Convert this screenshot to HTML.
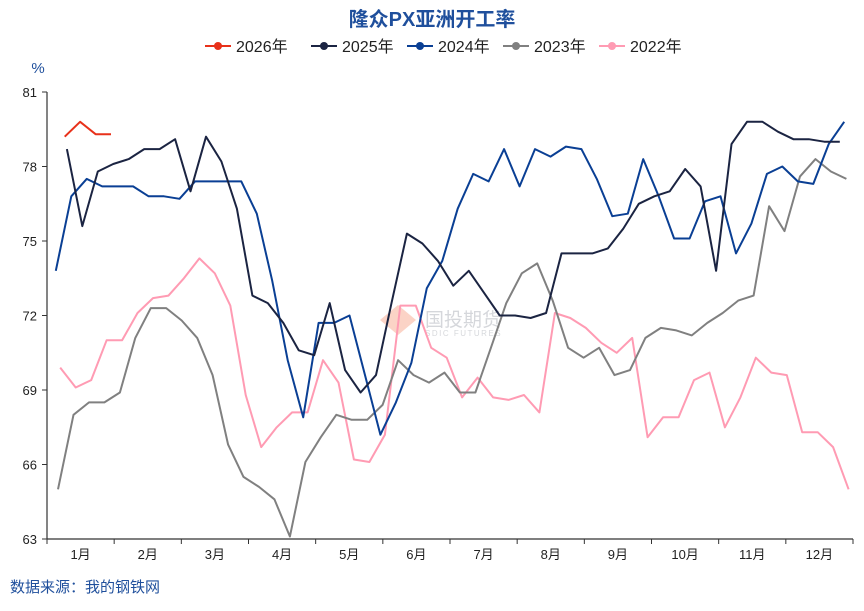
<!DOCTYPE html>
<html><head><meta charset="utf-8"><style>
body{margin:0;background:#fff;}
svg text{font-family:"Liberation Sans","Noto Sans CJK SC",sans-serif;}
</style></head><body>
<svg id="chart" width="864" height="606" viewBox="0 0 864 606" xmlns="http://www.w3.org/2000/svg">
<text x="432" y="26" text-anchor="middle" font-size="20" font-weight="bold" fill="#1f4f9c">隆众PX亚洲开工率</text>
<text x="38" y="73" text-anchor="middle" font-size="15" fill="#1f4f9c">%</text>
<g id="legend"></g>
<g id="watermark" opacity="0.35">
<polygon points="380,320 398,305 416,320 398,335" fill="#f4825e"/>
<text x="425" y="326" font-size="19" fill="#8a8f99">国投期货</text>
<text x="425" y="336" font-size="8" fill="#8a8f99" letter-spacing="1.5">SDIC FUTURES</text>
</g>
<g id="axes"></g>
<g id="series"></g>
<text x="10" y="592" font-size="15" fill="#1f4f9c">数据来源：我的钢铁网</text>
</svg>
<script>
const yTicks=[63,66,69,72,75,78,81];
const monthLabels=["1月","2月","3月","4月","5月","6月","7月","8月","9月","10月","11月","12月"];
const seriesNames=["2026年","2025年","2024年","2023年","2022年"];
const seriesColors=["#e8311a","#1b2442","#0a3f94","#808080","#ff9bb3"];
const startDays=[8,9,4,5,6];
const v2026=[79.2,79.8,79.3,79.3];
const v2025=[78.7,75.6,77.8,78.1,78.3,78.7,78.7,79.1,77.0,79.2,78.2,76.3,72.8,72.5,71.7,70.6,70.4,72.5,69.8,68.9,69.6,72.5,75.3,74.9,74.2,73.2,73.8,72.9,72.0,72.0,71.9,72.1,74.5,74.5,74.5,74.7,75.5,76.5,76.8,77.0,77.9,77.2,73.8,78.9,79.8,79.8,79.4,79.1,79.1,79.0,79.0];
const v2024=[73.8,76.8,77.5,77.2,77.2,77.2,76.8,76.8,76.7,77.4,77.4,77.4,77.4,76.1,73.4,70.2,67.9,71.7,71.7,72.0,69.6,67.2,68.5,70.1,73.1,74.2,76.3,77.7,77.4,78.7,77.2,78.7,78.4,78.8,78.7,77.5,76.0,76.1,78.3,76.8,75.1,75.1,76.6,76.8,74.5,75.7,77.7,78.0,77.4,77.3,78.9,79.8];
const v2023=[65.0,68.0,68.5,68.5,68.9,71.1,72.3,72.3,71.8,71.1,69.6,66.8,65.5,65.1,64.6,63.1,66.1,67.1,68.0,67.8,67.8,68.4,70.2,69.6,69.3,69.7,68.9,68.9,70.7,72.5,73.7,74.1,72.6,70.7,70.3,70.7,69.6,69.8,71.1,71.5,71.4,71.2,71.7,72.1,72.6,72.8,76.4,75.4,77.6,78.3,77.8,77.5];
const v2022=[69.9,69.1,69.4,71.0,71.0,72.1,72.7,72.8,73.5,74.3,73.7,72.4,68.8,66.7,67.5,68.1,68.1,70.2,69.3,66.2,66.1,67.2,72.4,72.4,70.7,70.3,68.7,69.5,68.7,68.6,68.8,68.1,72.1,71.9,71.5,70.9,70.5,71.1,67.1,67.9,67.9,69.4,69.7,67.5,68.7,70.3,69.7,69.6,67.3,67.3,66.7,65.0];
const allValues=[v2026,v2025,v2024,v2023,v2022];

const NS="http://www.w3.org/2000/svg";
const L=47,R=853,T=92,B=539,yMin=63,yMax=81;
const xScale=d=>L+d/365*(R-L);
const yScale=v=>B-(v-yMin)/(yMax-yMin)*(B-T);
function mk(tag,attrs,parent){const e=document.createElementNS(NS,tag);for(const k in attrs)e.setAttribute(k,attrs[k]);parent.appendChild(e);return e;}
const axes=document.getElementById('axes');


const ya=mk('line',{x1:L,x2:L,y1:T,y2:B,stroke:'#333','stroke-width':1.2},axes);


yTicks.forEach(t=>{
  const y=yScale(t);
  const tk=mk('line',{x1:L-5,x2:L,y1:y,y2:y,stroke:'#333','stroke-width':1},axes);
  
  
  const tx=mk('text',{x:L-10,y:y+5,'text-anchor':'end','font-size':13,fill:'#222'},axes);
  tx.textContent=t;
  
  
});
const xa=mk('line',{x1:L,x2:R,y1:B,y2:B,stroke:'#333','stroke-width':1.2},axes);


for(let i=0;i<=12;i++){
  const x=L+i*(R-L)/12;
  const tk=mk('line',{x1:x,x2:x,y1:B,y2:B+5,stroke:'#333','stroke-width':1},axes);
  
  
}
monthLabels.forEach((m,i)=>{
  const x=L+(i+0.5)*(R-L)/12;
  const tx=mk('text',{x:x,y:559,'text-anchor':'middle','font-size':13,fill:'#222'},axes);
  tx.textContent=m;
  
  
});
const sg=document.getElementById('series');


for(let s=allValues.length-1;s>=0;s--){
  const pts=allValues[s].map((v,i)=>xScale(startDays[s]+i*7).toFixed(1)+','+yScale(v).toFixed(1)).join(' ');
  const pl=mk('polyline',{points:pts,fill:'none',stroke:seriesColors[s],'stroke-width':2,'stroke-linejoin':'round'},sg);
  
  
}
const lg=document.getElementById('legend');
const lx=[205,311,407,503,599];
seriesNames.forEach((n,i)=>{
  const g=mk('g',{},lg);
  
  
  mk('line',{x1:lx[i],x2:lx[i]+26,y1:46,y2:46,stroke:seriesColors[i],'stroke-width':2},g);
  mk('circle',{cx:lx[i]+13,cy:46,r:4,fill:seriesColors[i]},g);
  const t=mk('text',{x:lx[i]+31,y:52,'font-size':16,fill:'#222'},g);
  t.textContent=n;
});
</script>
</body></html>
